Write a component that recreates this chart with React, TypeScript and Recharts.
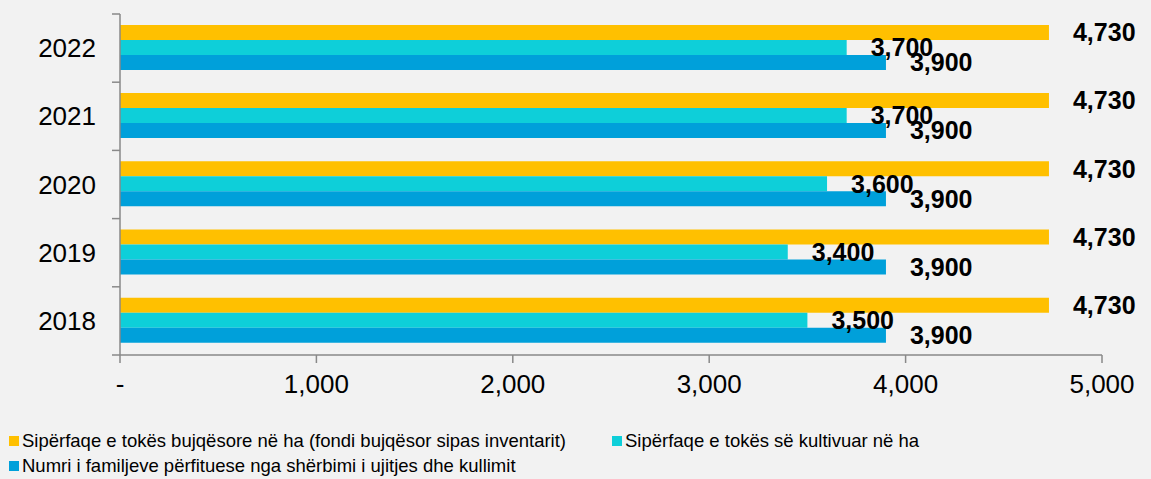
import React from 'react';
import { BarChart, Bar, XAxis, YAxis, LabelList } from 'recharts';

// categories, top to bottom
const years = ['2022', '2021', '2020', '2019', '2018'];
const agriLand = [4730, 4730, 4730, 4730, 4730];
const cultivated = [3700, 3700, 3600, 3400, 3500];
const families = [3900, 3900, 3900, 3900, 3900];
const xTicks = [0, 1000, 2000, 3000, 4000, 5000];

const seriesNames = [
  'Sipërfaqe e tokës bujqësore në ha (fondi bujqësor sipas inventarit)',
  'Sipërfaqe e tokës së kultivuar në ha',
  'Numri i familjeve përfituese nga shërbimi i ujitjes dhe kullimit',
];
const seriesColors = ['#FFC000', '#0ECFD9', '#00A0DA'];

const W = 1151;
const H = 479;
const MARGIN = { top: 14, right: 49, left: 0, bottom: 84 };
const X_AXIS_H = 40;
const PLOT_H = H - MARGIN.top - MARGIN.bottom - X_AXIS_H;
const BAND = PLOT_H / years.length;
const FONT = 'Liberation Sans, Arial, sans-serif';
const AXIS = '#898989';

const data = years.map((y, i) => ({
  year: y,
  agri: agriLand[i],
  cult: cultivated[i],
  fam: families[i],
}));

const fmt = (v: number) => (v === 0 ? '-' : v.toLocaleString('en-US'));

const YTick = (props: any) => {
  const { x, y, payload, index } = props;
  const ax = x + 24;
  return (
    <g>
      <line x1={ax - 8} x2={ax} y1={y - BAND / 2} y2={y - BAND / 2} stroke={AXIS} strokeWidth={1.5} />
      {index === years.length - 1 && (
        <line x1={ax - 8} x2={ax} y1={y + BAND / 2} y2={y + BAND / 2} stroke={AXIS} strokeWidth={1.5} />
      )}
      <text x={x} y={y} dy="0.35em" textAnchor="end" fontSize={26} fill="#000" fontFamily={FONT}>
        {payload.value}
      </text>
    </g>
  );
};

const labelStyle = { fontSize: 25, fontWeight: 700, fill: '#000', fontFamily: FONT };

export default function App() {
  return (
    <div style={{ position: 'absolute', left: 0, top: 0, width: W, height: H, background: '#F2F2F2', fontFamily: FONT }}>
      <BarChart
        width={W}
        height={H}
        data={data}
        layout="vertical"
        margin={MARGIN}
        barCategoryGap="16%"
        barGap={0}
      >
        <XAxis
          type="number"
          domain={[0, 5000]}
          ticks={xTicks}
          tickFormatter={fmt}
          height={X_AXIS_H}
          tickSize={8}
          tickMargin={12}
          stroke={AXIS}
          strokeWidth={1.5}
          tick={{ fontSize: 26, fill: '#000', fontFamily: FONT }}
        />
        <YAxis
          type="category"
          dataKey="year"
          width={120}
          tickLine={false}
          tickSize={0}
          tickMargin={24}
          stroke={AXIS}
          strokeWidth={1.5}
          tick={<YTick />}
        />
        <Bar dataKey="agri" fill={seriesColors[0]} isAnimationActive={false}>
          <LabelList dataKey="agri" position="right" offset={24} formatter={fmt} style={labelStyle} />
        </Bar>
        <Bar dataKey="cult" fill={seriesColors[1]} isAnimationActive={false}>
          <LabelList dataKey="cult" position="right" offset={24} formatter={fmt} style={labelStyle} />
        </Bar>
        <Bar dataKey="fam" fill={seriesColors[2]} isAnimationActive={false}>
          <LabelList dataKey="fam" position="right" offset={24} formatter={fmt} style={labelStyle} />
        </Bar>
      </BarChart>
      <div style={{ position: 'absolute', left: 9, top: 430, fontSize: 18.5, color: '#000', whiteSpace: 'nowrap' }}>
        {[0, 1].map((i) => (
          <span key={i} style={{ position: 'absolute', left: i === 0 ? 0 : 603, top: 0, display: 'flex', alignItems: 'center' }}>
            <span style={{ width: 10, height: 10, background: seriesColors[i], marginRight: 3 }} />
            {seriesNames[i]}
          </span>
        ))}
        <span style={{ position: 'absolute', left: 0, top: 25, display: 'flex', alignItems: 'center' }}>
          <span style={{ width: 10, height: 10, background: seriesColors[2], marginRight: 3 }} />
          {seriesNames[2]}
        </span>
      </div>
    </div>
  );
}
